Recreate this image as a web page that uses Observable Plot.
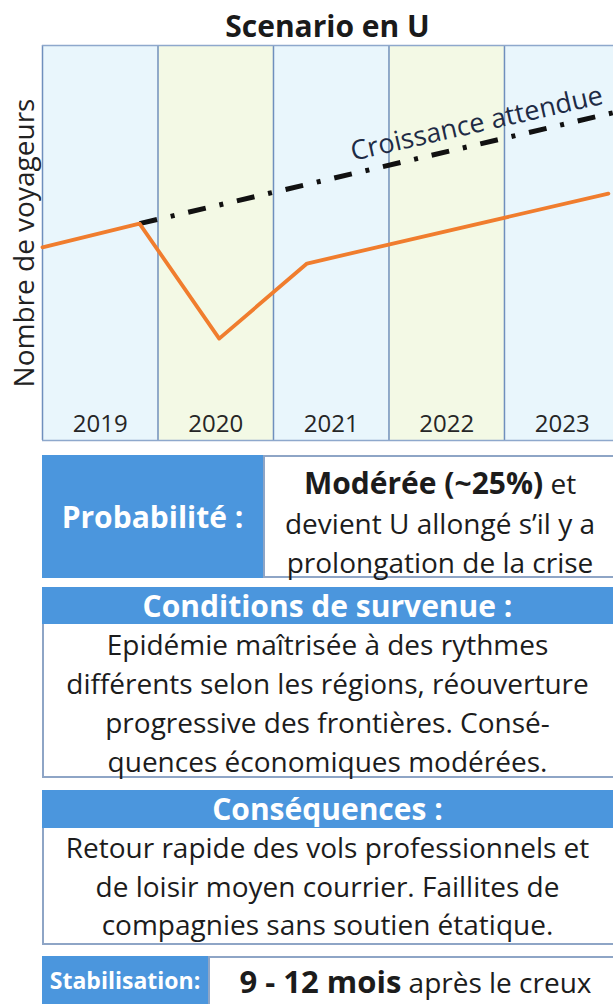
<!DOCTYPE html>
<html>
<head>
<meta charset="utf-8">
<script src="https://cdn.jsdelivr.net/npm/d3@7"></script>
<script src="https://cdn.jsdelivr.net/npm/@observablehq/plot@0.6"></script>
<style>
  html, body { margin: 0; padding: 0; width: 613px; height: 1004px; overflow: hidden; background: #fff; }
  body { position: relative; font-family: "Open Sans", sans-serif; color: #1c1c1c; }
  #title { position: absolute; left: 42px; width: 571px; top: 11px; line-height: 30px; font-size: 30px; font-weight: 700; text-align: center; color: #1a1a1a; }
  #chart { position: absolute; left: 0; top: 40px; }
  .blue { position: absolute; background: #4b96dd; color: #fff; font-weight: 700; text-align: center; box-sizing: border-box; }
  .cell { position: absolute; background: #fff; border: 2px solid #8ea5c6; box-sizing: border-box; text-align: center; font-size: 28px; color: #1c1c1c; }
  .cell div { white-space: nowrap; }
  b { font-weight: 700; }
</style>
</head>
<body>
<div id="title"></div>
<div id="chart"></div>

<!-- Probabilité -->
<div class="blue" style="left:42px; top:455px; width:221px; height:123px; line-height:123px; font-size:30px;">Probabilité :</div>
<div class="cell" style="left:263px; top:455px; width:354px; height:123px; padding-top:6px; line-height:39.5px;">
  <div><b style="font-size:30px">Modérée (~25%)</b> et</div>
  <div>devient U allongé s’il y a</div>
  <div>prolongation de la crise</div>
</div>

<!-- Conditions -->
<div class="blue" style="left:42px; top:587px; width:575px; height:37px; line-height:37px; font-size:30px; padding-right:4px;">Conditions de survenue :</div>
<div class="cell" style="left:42px; top:624px; width:575px; height:154px; border-top:none; padding-top:1px; padding-right:4px; line-height:39px;">
  <div>Epidémie maîtrisée à des rythmes</div>
  <div>différents selon les régions, réouverture</div>
  <div>progressive des frontières. Consé-</div>
  <div>quences économiques modérées.</div>
</div>

<!-- Conséquences -->
<div class="blue" style="left:42px; top:790px; width:575px; height:38px; line-height:38px; font-size:30px; padding-right:4px;">Conséquences :</div>
<div class="cell" style="left:42px; top:828px; width:575px; height:117px; border-top:none; padding-top:0px; padding-right:4px; line-height:38.5px;">
  <div>Retour rapide des vols professionnels et</div>
  <div>de loisir moyen courrier. Faillites de</div>
  <div>compagnies sans soutien étatique.</div>
</div>

<!-- Stabilisation -->
<div class="blue" style="left:42px; top:956px; width:166px; height:60px; line-height:48px; font-size:23px;">Stabilisation:</div>
<div class="cell" style="left:208px; top:956px; width:415px; height:60px; border-width:2px 2px 0 2px; line-height:46px;">
  <div><b style="font-size:31px">9 - 12 mois</b> après le creux</div>
</div>

<script>
const titleText = "Scenario en U";
const yLabel = "Nombre de voyageurs";
const years = [2019, 2020, 2021, 2022, 2023];
const yearLabels = ["2019", "2020", "2021", "2022", "2023"];
// observed passenger curve (U scenario), relative index
const actualX = [2019.0, 2019.84, 2020.53, 2021.29, 2023.90];
const actualY = [48.9, 54.9, 25.8, 44.8, 62.5];
// expected growth trend
const trendX = [2019.84, 2023.944];
const trendY = [54.9, 83.0];
const trendLabel = "Croissance attendue";
const trendLabelX = 2022.76;

document.getElementById("title").textContent = titleText;

const actual = actualX.map((x, i) => ({x, y: actualY[i]}));
const trend = trendX.map((x, i) => ({x, y: trendY[i]}));
const labelY = trendY[0] + (trendLabelX - trendX[0]) / (trendX[1] - trendX[0]) * (trendY[1] - trendY[0]);
const trendAnno = [{x: trendLabelX, y: labelY, text: trendLabel}];
const cols = years.map((y, i) => ({year: y, label: yearLabels[i], alt: i % 2 === 1}));

const plot = Plot.plot({
  width: 613,
  height: 405,
  marginTop: 5,
  marginBottom: 5,
  marginLeft: 42,
  marginRight: 0,
  x: {domain: [2019, 2023.944], axis: null},
  y: {domain: [0, 100], axis: null},
  style: {fontFamily: "'Open Sans', sans-serif", background: "transparent", overflow: "hidden"},
  marks: [
    Plot.rect(cols, {x1: "year", x2: d => d.year + 1, y1: 0, y2: 100, fill: d => d.alt ? "#f3f9e5" : "#e9f6fc", clip: true}),
    Plot.ruleX(cols, {x: "year", stroke: "#6f8fbd", strokeWidth: 1.5}),
    Plot.ruleY([0, 100], {stroke: "#8ea8cc", strokeWidth: 1.5}),
    Plot.line(trend, {x: "x", y: "y", stroke: "#111", strokeWidth: 5, strokeDasharray: "18,14,4,14", strokeLinecap: "butt"}),
    Plot.line(actual, {x: "x", y: "y", stroke: "#f07d2e", strokeWidth: 3.8}),
    Plot.text(trendAnno, {x: "x", y: "y", text: "text", rotate: -12.8, dy: -21, fontSize: 27, fill: "#1e2b45"}),
    Plot.text(cols, {x: d => d.year + 0.5, text: "label", frameAnchor: "bottom", dy: -9, fontSize: 24, fill: "#262626"}),
    Plot.text([yLabel], {frameAnchor: "left", textAnchor: "middle", dx: -17, rotate: -90, fontSize: 28, fill: "#222"})
  ]
});
document.getElementById("chart").appendChild(plot);
</script>
</body>
</html>
